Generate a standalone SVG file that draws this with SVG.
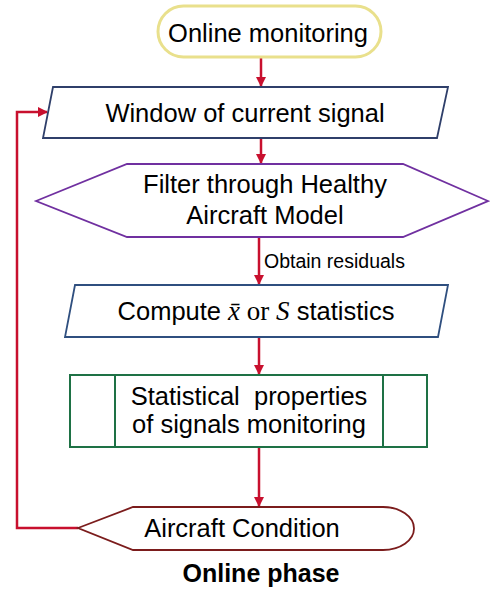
<svg xmlns="http://www.w3.org/2000/svg" width="490" height="597" viewBox="0 0 490 597">
<defs>
<marker id="ah" viewBox="0 0 10 10" refX="9" refY="5" markerWidth="4" markerHeight="4" orient="auto" markerUnits="strokeWidth">
<path d="M0,0 L10,5 L0,10 Z" fill="#c8102e"/>
</marker>
<style>
.t{font-family:"Liberation Sans",Arial,sans-serif;font-size:25.5px;fill:#000;text-anchor:middle}
.m{font-family:"Liberation Serif","Times New Roman",serif}
.c{fill:none;stroke:#c8102e;stroke-width:2.5;marker-end:url(#ah)}
</style>
</defs>
<rect width="490" height="597" fill="#fff"/>
<g id="connectors">
<line class="c" x1="261" y1="58" x2="261" y2="86"/>
<line class="c" x1="261" y1="139" x2="261" y2="163"/>
<line class="c" x1="259" y1="238" x2="259" y2="284"/>
<line class="c" x1="259" y1="338" x2="259" y2="374"/>
<line class="c" x1="259" y1="448" x2="259" y2="506"/>
<polyline class="c" points="78,528 17,528 17,112 47,112"/>
<text x="264" y="268" style="font-family:'Liberation Sans',Arial,sans-serif;font-size:19.5px;fill:#000">Obtain residuals</text>
</g>
<g id="online-monitoring">
<rect x="158" y="6" width="223" height="51" rx="25.5" fill="#fff" stroke="#e9e08c" stroke-width="3"/>
<text class="t" x="268" y="42">Online monitoring</text>
</g>
<g id="window">
<polygon points="53,87 448,87 437,138 43,138" fill="#fff" stroke="#2f3f6a" stroke-width="1.8"/>
<text class="t" x="245" y="122">Window of current signal</text>
</g>
<g id="filter">
<polygon points="36,201 127,164 403,164 488,201 403,237 127,237" fill="#fff" stroke="#7030a0" stroke-width="1.8"/>
<text class="t" x="265" y="193">Filter through Healthy</text>
<text class="t" x="265" y="224">Aircraft Model</text>
</g>
<g id="compute">
<polygon points="75,285 448,285 438,337 65,337" fill="#fff" stroke="#2f4f7f" stroke-width="1.8"/>
<text class="t" x="256" y="320">Compute <tspan class="m" font-style="italic" font-size="27">x̄</tspan><tspan class="m" font-size="27"> or </tspan><tspan class="m" font-style="italic" font-size="27">S</tspan> statistics</text>
</g>
<g id="statistical">
<rect x="70" y="375" width="357" height="72" fill="#fff" stroke="#1e7145" stroke-width="2"/>
<line x1="115" y1="375" x2="115" y2="447" stroke="#1e7145" stroke-width="2"/>
<line x1="383" y1="375" x2="383" y2="447" stroke="#1e7145" stroke-width="2"/>
<text class="t" x="249" y="405" xml:space="preserve">Statistical  properties</text>
<text class="t" x="249" y="433">of signals monitoring</text>
</g>
<g id="aircraft-condition">
<path d="M78,528 L133,507 L383,507 A31,21.5 0 0 1 383,550 L133,550 Z" fill="#fff" stroke="#7b1c1c" stroke-width="1.8"/>
<text class="t" x="242" y="537">Aircraft Condition</text>
</g>
<text x="261" y="582" style="font-family:'Liberation Sans',Arial,sans-serif;font-size:25px;font-weight:bold;fill:#000;text-anchor:middle">Online phase</text>
</svg>
